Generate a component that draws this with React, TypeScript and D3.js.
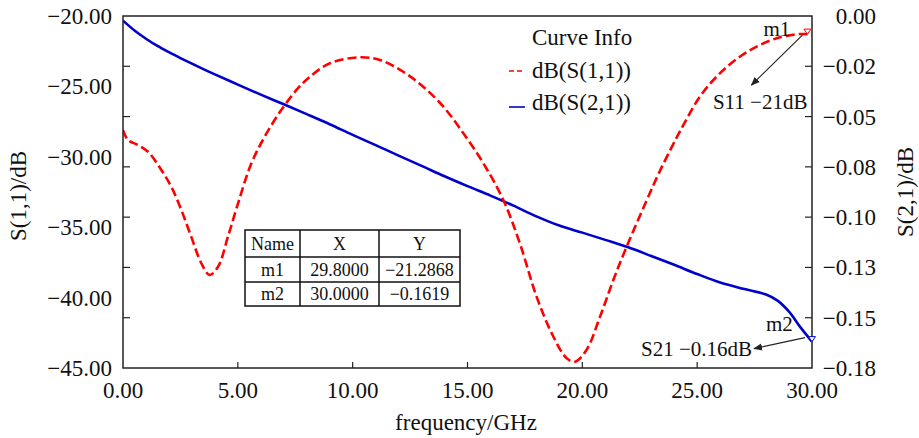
import * as d3 from "d3";

const width = 919;
const height = 438;
const marginLeft = 123;
const marginRight = 107;
const marginTop = 16;
const marginBottom = 70;

// S11 (dB)
const s11Freq = [
  0, 0.22, 0.65, 1.09, 1.67, 2.1, 2.54, 2.97, 3.41, 3.77, 4.14, 4.57, 5.01,
  5.59, 6.17, 6.89, 7.62, 8.14, 9.01, 10.32, 11.19, 12.2, 13.07, 13.95, 14.82,
  15.69, 16.56, 17.29, 18.01, 18.74, 19.32, 19.68, 20.18, 20.77, 21.35, 21.93,
  22.8, 23.38, 23.96, 24.25, 25.12, 25.99, 26.86, 27.73, 28.61, 29.48, 29.8, 30,
];
const s11Db = [
  -28.1, -28.81, -29.16, -29.64, -30.94, -32.12, -33.78, -35.67, -37.56,
  -38.39, -37.81, -35.67, -33.3, -30.46, -28.57, -26.68, -25.13, -24.31, -23.36,
  -22.93, -23.13, -23.96, -25.02, -26.44, -28.33, -30.46, -33.07, -36.2, -39.94,
  -42.78, -44.31, -44.55, -43.72, -41.36, -38.75, -36.38, -33.1, -31.0, -29.1,
  -28.2, -25.73, -24.07, -22.89, -22.06, -21.51, -21.28, -21.29, -21.35,
];

// S21 (dB)
const s21Freq = [
  0, 0.5, 1, 1.5, 2, 2.5, 3, 3.5, 4, 5, 6, 7, 8, 9, 10, 11, 12, 13, 14, 15, 16,
  17, 18, 19, 20, 21, 22, 23, 24, 25, 26, 27, 28, 28.5, 29, 29.5, 30,
];
const s21Db = [
  -0.0023, -0.0072, -0.0113, -0.0149, -0.018, -0.0209, -0.0237, -0.0264,
  -0.029, -0.0341, -0.0391, -0.0439, -0.0488, -0.0538, -0.0591, -0.0642,
  -0.0694, -0.0745, -0.0797, -0.0846, -0.0893, -0.0943, -0.0996, -0.1042,
  -0.1077, -0.1113, -0.115, -0.1193, -0.1237, -0.1283, -0.1325, -0.1356,
  -0.1385, -0.1415, -0.147, -0.1548, -0.1619,
];

const xTicks = [0, 5, 10, 15, 20, 25, 30];
const leftTicks = [-20, -25, -30, -35, -40, -45];
const rightTicks = [0, -0.025, -0.05, -0.075, -0.1, -0.125, -0.15, -0.175];
const rightTickLabels = ["0.00", "−0.02", "−0.05", "−0.08", "−0.10", "−0.13", "−0.15", "−0.18"];

const markerNames = ["m1", "m2"];
const markerX = [29.8, 30.0];
const markerY = [-21.2868, -0.1619];
const markerNotes = ["S11 −21dB", "S21 −0.16dB"];

const fmt = (v: number) => v.toFixed(2).replace("-", "−");
const serif = "'Liberation Serif', 'Times New Roman', serif";

export default function App() {
  const x = d3.scaleLinear().domain([0, 30]).range([marginLeft, width - marginRight]);
  const yLeft = d3.scaleLinear().domain([-45, -20]).range([height - marginBottom, marginTop]);
  const yRight = d3.scaleLinear().domain([-0.175, 0]).range([height - marginBottom, marginTop]);

  const s11Line = d3
    .line<number>()
    .x((_, i) => x(s11Freq[i]))
    .y((d) => yLeft(d))
    .curve(d3.curveCatmullRom);
  const s21Line = d3
    .line<number>()
    .x((_, i) => x(s21Freq[i]))
    .y((d) => yRight(d))
    .curve(d3.curveCatmullRom);

  const x0 = x(0);
  const x1 = x(30);
  const yTop = yLeft(-20);
  const yBot = yLeft(-45);

  // marker points
  const m1x = x(markerX[0]);
  const m1y = yLeft(markerY[0]);
  const m2x = x(markerX[1]);
  const m2y = yRight(markerY[1]);

  const tri = (cx: number, cy: number) =>
    `M${cx - 3.5},${cy - 5} L${cx + 3.5},${cy - 5} L${cx},${cy} Z`;

  // table layout
  const tableX = [245, 300, 379, 460];
  const tableY = [230, 257, 282, 306];
  const tableRows = [
    ["Name", "X", "Y"],
    [markerNames[0], markerX[0].toFixed(4), markerY[0].toFixed(4).replace("-", "−")],
    [markerNames[1], markerX[1].toFixed(4), markerY[1].toFixed(4).replace("-", "−")],
  ];

  return (
    <div style={{ position: "fixed", left: 0, top: 0 }}>
      <svg width={width} height={height} viewBox={`0 0 ${width} ${height}`} style={{ display: "block", background: "#fff" }}>
        <defs>
          <marker id="arrow" viewBox="0 0 10 10" refX="9" refY="5" markerWidth="9" markerHeight="9" orient="auto-start-reverse" markerUnits="userSpaceOnUse">
            <path d="M0,1 L10,5 L0,9 Z" fill="#222" />
          </marker>
          <clipPath id="plot">
            <rect x={x0} y={yTop - 2} width={x1 - x0 + 2} height={yBot - yTop + 4} />
          </clipPath>
        </defs>

        <g fontFamily={serif} fill="#111">
          {/* x tick labels */}
          {xTicks.map((t) => (
            <text key={`xt${t}`} x={x(t)} y={yBot + 30} fontSize={23} textAnchor="middle">
              {fmt(t)}
            </text>
          ))}
          {/* left tick labels */}
          {leftTicks.map((t) => (
            <text key={`lt${t}`} x={112} y={yLeft(t) + 8} fontSize={23} textAnchor="end">
              {fmt(t)}
            </text>
          ))}
          {/* right tick labels */}
          {rightTicks.map((t, i) => (
            <text key={`rt${t}`} x={876} y={yRight(t) + 8} fontSize={23} textAnchor="end">
              {rightTickLabels[i]}
            </text>
          ))}
          <text x={466} y={430} fontSize={23} textAnchor="middle">
            frequency/GHz
          </text>
          <text transform={`translate(26,196) rotate(-90)`} fontSize={23} textAnchor="middle">
            S(1,1)/dB
          </text>
          <text transform={`translate(913,192) rotate(-90)`} fontSize={23} textAnchor="middle">
            S(2,1)/dB
          </text>
        </g>

        {/* ticks, inward */}
        <g stroke="#222" strokeWidth={1.2}>
          {xTicks.slice(1, -1).map((t) => (
            <line key={`xk${t}`} x1={x(t)} x2={x(t)} y1={yBot} y2={yBot - 6} />
          ))}
          {rightTicks.slice(1, -1).map((t) => (
            <g key={`yk${t}`}>
              <line x1={x0} x2={x0 + 7} y1={yRight(t)} y2={yRight(t)} />
              <line x1={x1} x2={x1 - 7} y1={yRight(t)} y2={yRight(t)} />
            </g>
          ))}
        </g>

        {/* curves */}
        <g clipPath="url(#plot)" fill="none">
          <path d={s21Line(s21Db) ?? ""} stroke="#0000cc" strokeWidth={2.6} />
          <path d={s11Line(s11Db) ?? ""} stroke="#ff0000" strokeWidth={2.6} strokeDasharray="9 4" />
        </g>

        {/* plot frame */}
        <rect x={x0} y={yTop} width={x1 - x0} height={yBot - yTop} fill="none" stroke="#222" strokeWidth={1.5} />

        {/* legend */}
        <g fontFamily={serif} fill="#111" fontSize={23}>
          <text x={532} y={45}>Curve Info</text>
          <line x1={509} x2={525} y1={71} y2={71} stroke="#ff0000" strokeWidth={1.6} strokeDasharray="5 3" />
          <text x={532} y={78}>dB(S(1,1))</text>
          <line x1={509} x2={525} y1={107} y2={107} stroke="#0000cc" strokeWidth={1.6} />
          <text x={532} y={110}>dB(S(2,1))</text>
        </g>

        {/* markers */}
        <path d={tri(m1x, m1y)} fill="#fff" stroke="#ff0000" strokeWidth={1} />
        <path d={tri(m2x, m2y)} fill="#fff" stroke="#0000cc" strokeWidth={1} />
        <g stroke="#222" strokeWidth={1.2}>
          <line x1={m1x - 5} y1={m1y + 1} x2={m1x - 56} y2={m1y + 51} markerEnd="url(#arrow)" />
          <line x1={m2x - 7} y1={m2y - 4} x2={m2x - 58} y2={m2y + 7} markerEnd="url(#arrow)" />
        </g>
        <g fontFamily={serif} fill="#111" fontSize={21}>
          <text x={m1x - 44} y={m1y + 2}>{markerNames[0]}</text>
          <text x={m1x} y={m1y + 75} textAnchor="end">{markerNotes[0]}</text>
          <text x={m2x - 46} y={m2y - 11}>{markerNames[1]}</text>
          <text x={m2x - 60} y={m2y + 14} textAnchor="end">{markerNotes[1]}</text>
        </g>

        {/* marker table */}
        <g fontFamily={serif} fontSize={18} fill="#111">
          <rect x={tableX[0]} y={tableY[0]} width={tableX[3] - tableX[0]} height={tableY[3] - tableY[0]} fill="#fff" stroke="#111" strokeWidth={1.5} />
          {tableX.slice(1, -1).map((tx) => (
            <line key={`tc${tx}`} x1={tx} x2={tx} y1={tableY[0]} y2={tableY[3]} stroke="#111" strokeWidth={1.5} />
          ))}
          {tableY.slice(1, -1).map((ty) => (
            <line key={`tr${ty}`} x1={tableX[0]} x2={tableX[3]} y1={ty} y2={ty} stroke="#111" strokeWidth={1.5} />
          ))}
          {tableRows.map((row, r) =>
            row.map((cell, c) => (
              <text
                key={`cell${r}${c}`}
                x={(tableX[c] + tableX[c + 1]) / 2}
                y={(tableY[r] + tableY[r + 1]) / 2 + 6}
                textAnchor="middle"
              >
                {cell}
              </text>
            ))
          )}
        </g>
      </svg>
    </div>
  );
}
